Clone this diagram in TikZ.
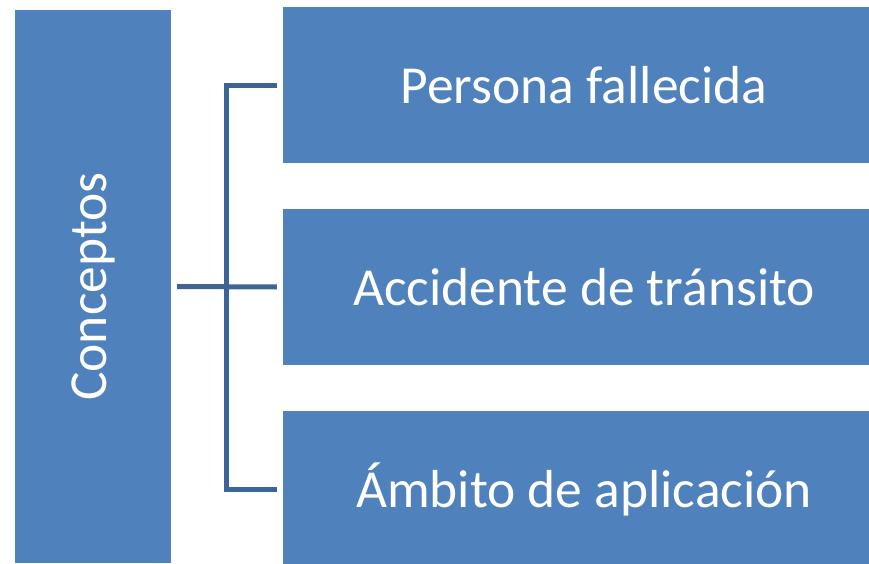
\documentclass[tikz,border=0pt]{standalone}
\usepackage{fontspec}
\setmainfont{Carlito}
\usetikzlibrary{positioning,calc}
\definecolor{boxblue}{RGB}{79,129,189}
\definecolor{lineblue}{RGB}{60,100,150}
\tikzset{box/.style = {rectangle,fill=boxblue,text=white,inner sep=0pt,
                       font=\fontsize{53.5}{64}\selectfont},
         item/.style = {box,minimum width=586pt,minimum height=156pt},
         conn/.style = {draw=lineblue,line width=5pt}}
% text in the right boxes sits a little right of centre
\newcommand{\itemtext}[1]{\hspace*{16pt}#1}

\begin{document}
\begin{tikzpicture}[x=1pt,y=-1pt]
            \useasboundingbox (0,0) rectangle (869,563);
            \node[box,minimum width=156pt,minimum height=553pt] (conceptos) at (93,286.5)
                {\rotatebox{90}{Conceptos}};

            \node[item] (persona)   at (576,85)  {\itemtext{Persona fallecida}};
            \node[item] (accidente) at (576,287) {\itemtext{Accidente de tránsito}};
            \node[item] (ambito)    at (576,489) {\itemtext{Ámbito de aplicación}};

            \coordinate (spine) at (226.5,286.5);

            \draw[conn,shorten <=6pt,shorten >=6pt] (conceptos.east) -- (accidente.west);
            \draw[conn,shorten <=6pt,shorten >=6pt] (persona.west) -| (spine) |- (ambito.west);
        \end{tikzpicture}
\end{document}
